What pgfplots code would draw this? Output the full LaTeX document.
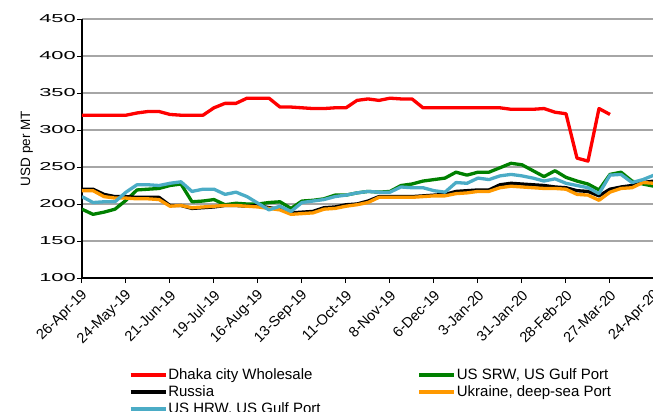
\documentclass[border=0pt]{standalone}
\usepackage{fontspec}
\setmainfont{Liberation Sans}
\newfontfamily\ytickfont[FakeStretch=1.9]{Liberation Sans}
\usepackage{pgfplots}
\pgfplotsset{compat=1.18}
\usepackage{pgfplotstable}

\pgfplotstableread{
i red green black orange blue
0 320 193 220 218 210
1 320 186 220 218 202
2 320 189 213 210 203
3 320 193 210 208 203
4 320 205 210 208 216
5 323 219 209 207 226
6 325 220 209 207 226
7 325 221 209 206 225
8 321 225 198 197 228
9 320 227 198 198 230
10 320 203 194 195 217
11 320 204 195 196 220
12 330 206 196 197 220
13 336 199 198 198 213
14 336 201 198 198 216
15 343 200 197 197 210
16 343 200 198 196 201
17 343 202 195 194 192
18 331 203 193 192 197
19 331 194 188 186 190
20 330 204 189 187 202
21 329 205 190 188 204
22 329 207 195 193 206
23 330 212 196 194 210
24 330 212 199 197 212
25 340 215 200 199 215
26 342 217 204 202 217
27 340 216 210 209 216
28 343 217 210 209 216
29 342 225 210 209 223
30 342 227 210 209 222
31 330 231 211 210 222
32 330 233 212 211 218
33 330 235 213 211 216
34 330 243 217 214 229
35 330 239 218 215 228
36 330 243 219 217 235
37 330 243 219 217 233
38 330 249 226 222 238
39 328 255 228 224 240
40 328 253 227 223 238
41 328 245 226 222 235
42 329 237 225 221 231
43 324 245 223 221 234
44 322 236 222 220 228
45 262 231 218 213 225
46 258 227 217 212 222
47 329 219 211 205 214
48 321 240 220 216 239
49 nan 243 223 221 240
50 nan 231 225 222 229
51 nan 227 229 229 233
52 nan 224 231 228 239
}\data

\definecolor{cRed}{HTML}{FF0000}
\definecolor{cGreen}{HTML}{008000}
\definecolor{cOrange}{HTML}{FF9900}
\definecolor{cBlue}{HTML}{4BACC6}
\definecolor{cGrid}{HTML}{A6A6A6}

\begin{document}
\begin{tikzpicture}
\begin{axis}[
  scale only axis, width=572bp, height=259bp,
  at={(0,0)}, anchor=south west,
  xmin=0, xmax=52, ymin=100, ymax=450,
  axis x line*=bottom, axis y line*=left,
  axis line style={black, line width=1.2bp, -},
  xtick={0,4,...,52},
  xticklabels={26-Apr-19,24-May-19,21-Jun-19,19-Jul-19,16-Aug-19,13-Sep-19,11-Oct-19,8-Nov-19,6-Dec-19,3-Jan-20,31-Jan-20,28-Feb-20,27-Mar-20,24-Apr-20},
  ytick={100,150,...,450},
  tick align=outside, major tick length=5bp,
  tick style={black, line width=1bp},
  ymajorgrids, grid style={color=cGrid, line width=1.2bp},
  /pgf/number format/assume math mode=true,
  yticklabel style={font=\ytickfont\fontsize{11.5bp}{13bp}\selectfont, inner sep=1bp},
  xticklabel style={yshift=-9bp, xshift=4bp, font=\fontsize{14.5bp}{16bp}\selectfont, rotate=45, anchor=east, inner sep=1bp},
  ylabel={USD per MT},
  ylabel style={font=\fontsize{13.5bp}{15bp}\selectfont, xshift=0bp, yshift=2bp},
  legend columns=2,
  legend cell align=left,
  legend style={at={(0,0)}, anchor=north west, xshift=47bp, yshift=-89bp,
    draw=none, inner sep=0pt, outer sep=0pt,
    font=\fontsize{15bp}{17bp}\selectfont, row sep=1bp,
    nodes={text height=11bp, text depth=3bp, inner sep=1bp},
    /tikz/every even column/.append style={column sep=96bp}},
  legend image code/.code={\draw[#1] (0bp,0bp) -- (35bp,0bp);},
  every axis plot/.append style={line width=3.3bp, line join=round},
]
\addplot[cRed, no markers] table[x=i, y=red] {\data};
\addlegendentry{Dhaka city Wholesale}
\addplot[cGreen, no markers] table[x=i, y=green] {\data};
\addlegendentry{US SRW, US Gulf Port}
\addplot[black, no markers] table[x=i, y=black] {\data};
\addlegendentry{Russia}
\addplot[cOrange, no markers] table[x=i, y=orange] {\data};
\addlegendentry{Ukraine, deep-sea Port}
\addplot[cBlue, no markers] table[x=i, y=blue] {\data};
\addlegendentry{US HRW, US Gulf Port}
\end{axis}
\pgfresetboundingbox
\path[use as bounding box] (-82bp,-134bp) rectangle (571bp,278bp);
\end{tikzpicture}
\end{document}
